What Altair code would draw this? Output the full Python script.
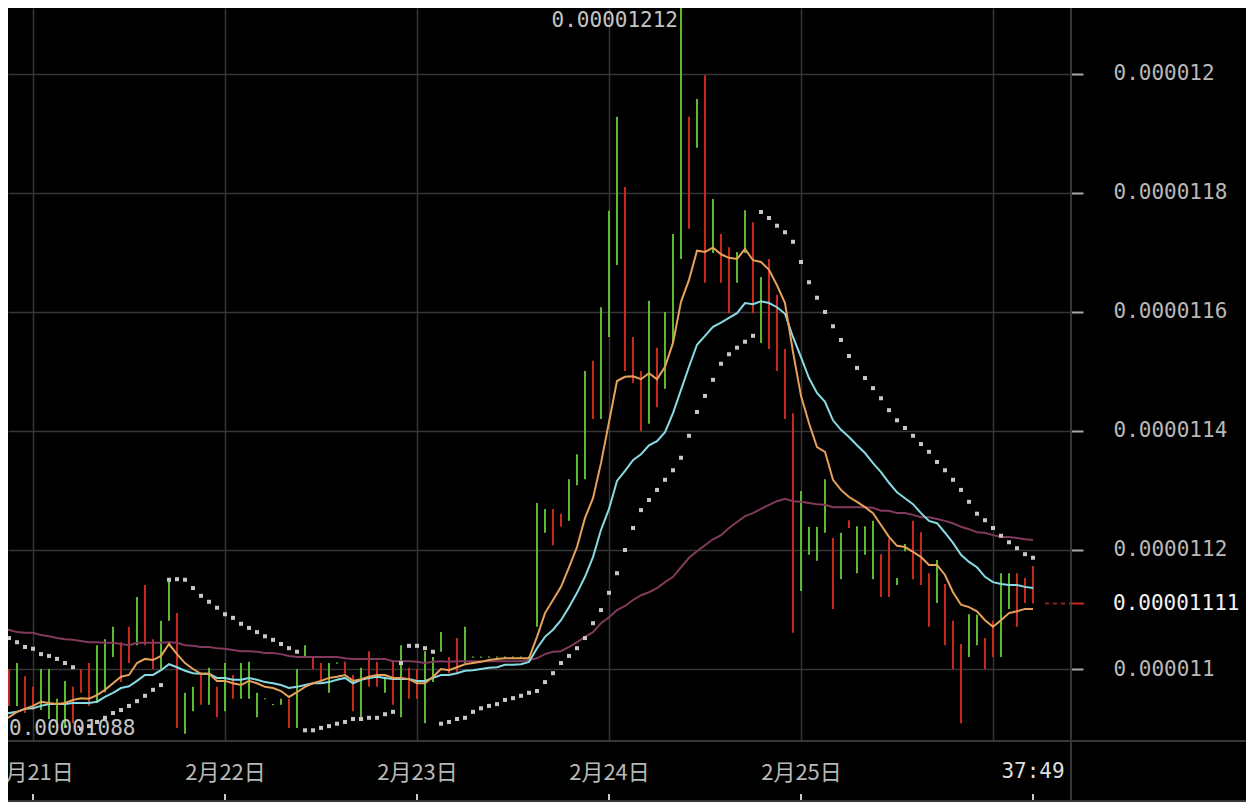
import altair as alt
import pandas as pd

# Hourly candles; hour 0 = 2月20日 20:00. Prices in units of 1e-8.
HOURS = list(range(130))

HIGH = [
    1095.1, 1100.0, 1101.0, 1098.8, 1097.0, 1100.0, 1100.0, 1095.0, 1098.0, 1097.0,
    1100.0, 1101.0, 1104.0, 1105.0, 1107.1, 1104.5, 1107.1, 1112.1, 1114.1, 1105.0,
    1108.1, 1115.1, 1109.4, 1096.0, 1097.0, 1099.0, 1100.2, 1097.0, 1101.0, 1099.0,
    1101.0, 1101.2, 1096.0, 1095.1, 1094.1, 1095.0, 1095.0, 1100.0, 1104.0, 1102.0,
    1101.0, 1101.0, 1101.1, 1101.2, 1099.0, 1100.2, 1103.0, 1101.2, 1098.7, 1101.2,
    1104.0, 1100.2, 1100.0, 1103.0, 1102.0, 1106.2, 1102.0, 1105.2, 1107.1, 1102.1,
    1102.1, 1102.1, 1102.1, 1102.1, 1102.1, 1102.1, 1102.1, 1127.9, 1126.9, 1126.9,
    1126.1, 1131.9, 1136.1, 1150.1, 1151.8, 1160.8, 1177.0, 1192.8, 1181.0, 1155.8,
    1150.1, 1161.9, 1154.0, 1160.0, 1173.1, 1212.0, 1192.8, 1195.8, 1199.8, 1179.0,
    1173.1, 1170.9, 1170.1, 1177.1, 1175.1, 1165.9, 1168.9, 1162.9, 1153.8, 1143.0,
    1129.9, 1123.9, 1123.9, 1131.9, 1122.0, 1122.9, 1125.0, 1124.0, 1124.0, 1124.9,
    1119.3, 1121.9, 1115.3, 1121.0, 1124.9, 1123.0, 1116.1, 1118.3, 1114.3, 1108.1,
    1104.2, 1109.2, 1109.1, 1105.2, 1108.1, 1116.1, 1116.1, 1116.1, 1115.3, 1117.3,
]

LOW = [
    1088.0, 1093.8, 1093.8, 1092.6, 1093.1, 1093.1, 1091.6, 1090.1, 1090.1, 1090.9,
    1096.0, 1093.8, 1094.3, 1096.1, 1102.0, 1097.8, 1101.0, 1104.0, 1104.0, 1100.0,
    1100.0, 1108.1, 1090.1, 1089.1, 1092.9, 1094.0, 1094.0, 1091.9, 1092.9, 1095.0,
    1095.0, 1095.0, 1091.9, 1094.9, 1093.9, 1094.0, 1090.1, 1090.1, 1102.0, 1100.0,
    1098.0, 1096.0, 1100.9, 1099.2, 1092.9, 1091.9, 1097.0, 1097.0, 1096.0, 1094.0,
    1091.9, 1095.0, 1095.0, 1090.9, 1097.8, 1102.9, 1099.3, 1099.2, 1101.0, 1101.9,
    1101.9, 1101.9, 1101.9, 1101.9, 1101.9, 1101.9, 1101.9, 1107.1, 1122.9, 1120.8,
    1123.9, 1124.9, 1130.9, 1131.9, 1142.0, 1142.0, 1155.8, 1167.9, 1150.1, 1148.1,
    1140.0, 1141.2, 1144.0, 1147.1, 1154.8, 1168.9, 1174.0, 1187.6, 1164.9, 1169.9,
    1164.9, 1159.8, 1164.9, 1169.9, 1159.8, 1154.8, 1153.8, 1150.1, 1142.0, 1106.1,
    1113.1, 1119.2, 1118.2, 1122.9, 1110.1, 1115.1, 1123.7, 1116.1, 1119.2, 1115.1,
    1112.1, 1112.1, 1114.1, 1119.8, 1115.1, 1114.1, 1107.1, 1111.1, 1104.0, 1100.0,
    1090.9, 1102.0, 1104.0, 1100.0, 1102.0, 1102.0, 1110.1, 1107.1, 1111.1, 1111.0,
]

DIRECTION = (
    "u d u d d u u u u d "
    "d d u u u d d u d d "
    "u u d u u d u d u d "
    "u u u u u u d u u d "
    "d u u d d u d d u d "
    "u d d u u u d d u u "
    "u u u u u u u u u d "
    "d u u u d u u u d d "
    "d u d u u u d u d u "
    "d d u u d u d d d d "
    "u u u u d u d u u u "
    "d d u u d d d u d d "
    "d u u d d u u d d d"
).split()

FAST = [
    1091.1, 1091.9, 1092.8, 1093.3, 1093.8, 1094.5, 1094.3, 1094.1, 1094.3, 1094.8,
    1095.1, 1095.0, 1095.6, 1096.5, 1097.6, 1098.7, 1099.0, 1101.0, 1101.7, 1101.5,
    1102.2, 1104.2, 1102.5, 1101.0, 1100.0, 1099.2, 1099.2, 1098.0, 1098.0, 1097.6,
    1097.3, 1098.0, 1097.6, 1097.0, 1096.8, 1096.3, 1095.3, 1096.1, 1097.0, 1097.6,
    1098.0, 1098.5, 1098.7, 1099.0, 1098.0, 1098.3, 1098.7, 1099.0, 1099.0, 1098.5,
    1098.5, 1098.3, 1097.6, 1097.6, 1098.7, 1100.0, 1099.8, 1100.3, 1100.8, 1101.0,
    1101.2, 1101.5, 1101.7, 1101.8, 1101.8, 1101.8, 1101.8, 1105.4, 1109.4, 1111.6,
    1113.8, 1117.1, 1120.5, 1125.4, 1128.7, 1134.6, 1141.5, 1148.4, 1149.1, 1149.2,
    1148.7, 1149.7, 1148.7, 1150.8, 1154.8, 1161.7, 1165.4, 1170.3, 1170.1, 1170.8,
    1169.7, 1169.1, 1168.9, 1170.6, 1168.7, 1168.4, 1167.1, 1164.5, 1161.5, 1153.3,
    1145.9, 1141.3, 1137.3, 1136.5, 1131.8, 1130.1, 1128.9, 1128.1, 1127.2, 1126.2,
    1124.2, 1122.2, 1120.7, 1120.5, 1119.7, 1118.8, 1117.5, 1117.5, 1115.8, 1112.9,
    1110.8, 1110.4, 1109.7, 1108.2, 1107.1, 1108.2, 1109.4, 1109.7, 1110.1, 1110.1,
]

MID = [
    1092.4, 1092.6, 1092.8, 1093.3, 1093.4, 1093.8, 1094.1, 1094.1, 1094.1, 1094.3,
    1094.3, 1094.3, 1094.5, 1095.3, 1096.0, 1096.8, 1097.1, 1098.0, 1099.0, 1099.0,
    1099.8, 1100.8, 1100.3, 1099.7, 1099.3, 1099.2, 1099.2, 1098.5, 1098.5, 1098.2,
    1098.2, 1098.5, 1098.2, 1097.8, 1097.6, 1097.3, 1096.8, 1097.0, 1097.3, 1097.6,
    1097.6, 1097.8, 1098.2, 1098.5, 1097.6, 1098.2, 1098.5, 1098.7, 1098.5, 1098.3,
    1098.3, 1098.3, 1098.0, 1098.0, 1098.5, 1099.0, 1099.0, 1099.3, 1099.7, 1099.8,
    1100.0, 1100.2, 1100.3, 1100.7, 1100.7, 1100.8, 1101.2, 1103.5, 1105.4, 1106.6,
    1108.2, 1110.4, 1112.8, 1115.5, 1118.8, 1123.4, 1126.9, 1131.6, 1133.3, 1135.1,
    1136.1, 1137.6, 1138.3, 1139.8, 1143.0, 1146.9, 1150.8, 1154.5, 1156.0, 1157.5,
    1158.2, 1159.0, 1159.8, 1161.5, 1161.3, 1161.8, 1161.5, 1160.8, 1159.7, 1155.8,
    1152.4, 1148.9, 1146.4, 1144.9, 1141.8, 1140.2, 1139.0, 1137.6, 1136.3, 1134.6,
    1133.1, 1131.3, 1129.7, 1128.7, 1127.7, 1126.2, 1124.9, 1124.5, 1122.9, 1121.2,
    1119.2, 1118.0, 1117.1, 1115.5, 1114.6, 1114.3, 1114.1, 1114.1, 1113.8, 1113.6,
]

SLOW = [
    1106.7, 1106.6, 1106.2, 1106.1, 1106.1, 1105.7, 1105.5, 1105.2, 1105.0, 1104.9,
    1104.7, 1104.5, 1104.5, 1104.4, 1104.4, 1104.2, 1104.0, 1104.4, 1104.4, 1104.4,
    1104.4, 1104.5, 1104.4, 1104.0, 1103.9, 1103.7, 1103.7, 1103.5, 1103.4, 1103.2,
    1103.0, 1103.0, 1102.9, 1102.7, 1102.7, 1102.5, 1102.2, 1102.0, 1102.0, 1102.0,
    1102.0, 1102.0, 1102.0, 1101.8, 1101.7, 1101.7, 1101.7, 1101.7, 1101.7, 1101.3,
    1101.3, 1101.3, 1101.2, 1101.0, 1101.2, 1101.3, 1101.2, 1101.3, 1101.3, 1101.3,
    1101.3, 1101.3, 1101.3, 1101.3, 1101.3, 1101.3, 1101.5, 1101.8, 1102.5, 1102.9,
    1103.0, 1103.7, 1104.5, 1105.4, 1106.2, 1107.7, 1108.7, 1109.9, 1110.6, 1111.6,
    1112.4, 1112.9, 1113.6, 1114.6, 1115.5, 1117.1, 1118.7, 1119.8, 1120.8, 1121.8,
    1122.5, 1123.7, 1124.7, 1125.7, 1126.2, 1126.9, 1127.6, 1128.2, 1128.6, 1128.2,
    1128.1, 1127.9, 1127.7, 1127.6, 1127.2, 1127.2, 1127.2, 1127.2, 1127.2, 1127.1,
    1126.6, 1126.6, 1126.2, 1126.2, 1125.9, 1125.5, 1125.5, 1125.2, 1124.9, 1124.5,
    1123.9, 1123.5, 1123.0, 1122.9, 1122.5, 1122.2, 1122.2, 1122.0, 1121.8, 1121.7,
]

SAR = [
    1106.2, 1105.2, 1104.5, 1103.7, 1103.4, 1102.5, 1102.2, 1101.7, 1101.0, 1100.3,
    1089.9, 1090.4, 1091.1, 1091.8, 1092.6, 1093.1, 1093.8, 1094.6, 1095.5, 1096.5,
    1097.3, 1115.0, 1115.1, 1115.0, 1113.6, 1112.3, 1111.3, 1110.3, 1109.2, 1108.6,
    1107.6, 1106.9, 1106.2, 1105.5, 1104.9, 1104.2, 1103.5, 1102.9, 1089.7, 1089.7,
    1090.1, 1090.4, 1090.8, 1091.1, 1091.6, 1091.6, 1091.8, 1091.8, 1092.4, 1092.8,
    1101.0, 1103.9, 1103.9, 1103.5, 1102.9, 1090.8, 1091.1, 1091.6, 1091.8, 1092.8,
    1093.4, 1093.8, 1094.1, 1094.8, 1095.1, 1095.5, 1096.0, 1096.3, 1097.8, 1099.3,
    1101.0, 1102.2, 1103.5, 1105.2, 1107.7, 1109.9, 1112.8, 1116.1, 1120.0, 1123.7,
    1126.7, 1128.4, 1130.1, 1131.8, 1133.4, 1135.5, 1139.2, 1143.2, 1145.9, 1148.6,
    1151.3, 1152.9, 1154.0, 1155.0, 1156.0, 1176.8, 1175.8, 1174.5, 1173.4, 1171.8,
    1168.4, 1165.0, 1162.4, 1160.0, 1157.6, 1155.3, 1152.6, 1150.6, 1148.9, 1147.2,
    1145.5, 1143.5, 1141.8, 1140.5, 1139.2, 1137.8, 1136.5, 1134.8, 1133.4, 1131.8,
    1130.1, 1128.1, 1126.1, 1125.0, 1123.7, 1122.4, 1121.3, 1120.3, 1119.3, 1118.7,
]

DATE_HOURS = [4, 28, 52, 76, 100, 124]
DATE_LABELS = ["2月21日", "2月22日", "2月23日", "2月24日", "2月25日", ""]
TICK_HOURS = [4, 28, 52, 76, 100, 129]
Y_TICKS = [1100, 1120, 1140, 1160, 1180, 1200]
LAST_PRICE = 1111.0
MAX_HOUR, MAX_PRICE = 85, 1212.0
MIN_HOUR, MIN_PRICE = 0, 1088.0
COUNTDOWN = "37:49"

GREEN = "#5cba2e"
RED = "#c9291e"
GRID = "#363636"
AXIS_TXT = "#b8b8b8"
MONO = "DejaVu Sans Mono"

df = pd.DataFrame({
    "h": HOURS, "high": HIGH, "low": LOW,
    "dir": ["up" if d == "u" else "down" for d in DIRECTION],
    "fast": FAST, "mid": MID, "slow": SLOW, "sar": SAR,
})

xs = alt.Scale(domain=[0.875, 133.75], nice=False, zero=False)
ys = alt.Scale(domain=[1087.90, 1211.09], nice=False, zero=False)

label_expr = "".join(f"datum.value == {h} ? '{l}' : " for h, l in zip(DATE_HOURS, DATE_LABELS)) + "''"

x_axis = alt.Axis(values=DATE_HOURS, labelExpr=label_expr, grid=True, gridColor=GRID, gridWidth=1.5,
                  domain=False, ticks=False, labelColor=AXIS_TXT, labelFont="Noto Sans CJK SC",
                  labelFontSize=22, labelPadding=21, labelBaseline="top", labelFlush=False,
                  labelOverlap=False, title=None)
y_axis = alt.Axis(orient="right", values=Y_TICKS, labelExpr="format(datum.value * 1e-8, '.7~f')",
                  grid=True, gridColor=GRID, gridWidth=1.5, domain=False, tickColor="#a8a8a8",
                  tickSize=12, tickWidth=2, labelColor=AXIS_TXT, labelFont=MONO, labelFontSize=21,
                  labelPadding=30, labelAlign="left", labelBaseline="middle", title=None)


def X(field="h"):
    return alt.X(f"{field}:Q", scale=xs, axis=x_axis)


def Y(field):
    return alt.Y(f"{field}:Q", scale=ys, axis=y_axis)


base = alt.Chart(df)

candles = base.mark_rule(strokeWidth=2, clip=True).encode(
    x=X(), y=Y("low"), y2="high:Q",
    color=alt.Color("dir:N", scale=alt.Scale(domain=["up", "down"], range=[GREEN, RED]), legend=None),
)


def line(field, color):
    return base.mark_line(strokeWidth=2, color=color, clip=True).encode(x=X(), y=Y(field))


slow = line("slow", "#813a5c")
mid = line("mid", "#86dbe4")
fast = line("fast", "#e6a15b")

sar = base.mark_square(size=16, color="#c8c8c8", opacity=1, clip=True).encode(x=X(), y=Y("sar"))

one = pd.DataFrame({"a": [0]})
right_border = alt.Chart(one).mark_rule(color=GRID, strokeWidth=2).encode(
    x=alt.value(1063), y=alt.value(-10), y2=alt.value(800))
bottom_line1 = alt.Chart(one).mark_rule(color=GRID, strokeWidth=2).encode(
    x=alt.value(-10), x2=alt.value(1240), y=alt.value(733))
bottom_line2 = alt.Chart(one).mark_rule(color=GRID, strokeWidth=2).encode(
    x=alt.value(-10), x2=alt.value(1240), y=alt.value(793))

date_ticks = alt.Chart(pd.DataFrame({"h": TICK_HOURS})).mark_rule(color="#c8c8c8", strokeWidth=2).encode(
    x=X(), y=alt.value(786), y2=alt.value(792))

last_df = pd.DataFrame({"p": [LAST_PRICE], "t": [f"{LAST_PRICE * 1e-8:.8f}"]})
last_dash = alt.Chart(last_df).mark_rule(color="#8e2218", strokeWidth=2, strokeDash=[4, 4]).encode(
    x=alt.value(1037), x2=alt.value(1062), y=Y("p"))
last_tick = alt.Chart(last_df).mark_rule(color=RED, strokeWidth=2).encode(
    x=alt.value(1063), x2=alt.value(1076), y=Y("p"))
last_label = alt.Chart(last_df).mark_text(align="left", baseline="middle", font=MONO, fontSize=21,
                                          color="#f2f2f2").encode(
    x=alt.value(1105), y=Y("p"), text="t:N")

max_df = pd.DataFrame({"h": [MAX_HOUR], "p": [MAX_PRICE], "t": [f"{MAX_PRICE * 1e-8:.8f}"]})
max_label = alt.Chart(max_df).mark_text(align="right", baseline="top", dx=-3, dy=7, font=MONO,
                                        fontSize=21, color="#c4c4c4").encode(
    x=X(), y=Y("p"), text="t:N")

min_df = pd.DataFrame({"h": [MIN_HOUR], "p": [MIN_PRICE], "t": [f"{MIN_PRICE * 1e-8:.8f}"]})
min_label = alt.Chart(min_df).mark_text(align="left", baseline="alphabetic", dx=8, dy=-5, font=MONO,
                                        fontSize=21, color="#c4c4c4").encode(
    x=X(), y=Y("p"), text="t:N")

cd_df = pd.DataFrame({"t": [COUNTDOWN]})
countdown = alt.Chart(cd_df).mark_text(align="center", baseline="middle", font=MONO, fontSize=21,
                                       color="#dedede").encode(
    x=alt.value(1025), y=alt.value(764), text="t:N")

chart = alt.layer(
    candles, right_border, bottom_line1, bottom_line2, date_ticks,
    slow, mid, fast, sar,
    last_dash, last_tick, last_label, max_label, min_label, countdown,
).properties(
    width=1063, height=733,
    autosize=alt.AutoSizeParams(type="none"),
    padding={"left": 0, "top": 0, "right": 175, "bottom": 61},
    background="#000000",
).configure_view(stroke=None)

chart.save("out.html", embed_options={"renderer": "svg", "actions": False})
